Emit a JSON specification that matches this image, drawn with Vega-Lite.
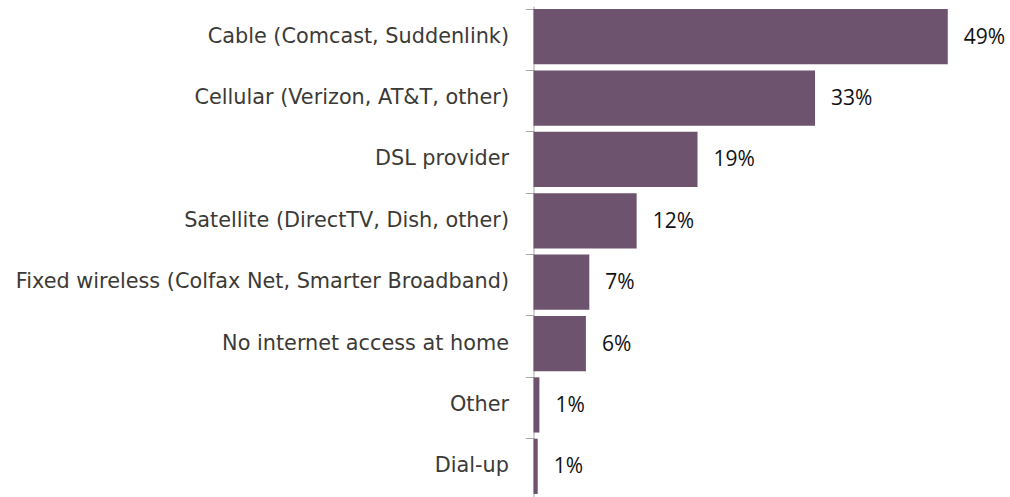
{
  "$schema": "https://vega.github.io/schema/vega-lite/v6.json",
  "autosize": {"type": "none"},
  "width": 476,
  "height": 491,
  "padding": {"left": 533.5, "top": 6, "right": 0.5, "bottom": 0},
  "background": "white",
  "config": {"view": {"stroke": null}},
  "data": {
    "values": [
      {"category": "Cable (Comcast, Suddenlink)", "value": 49.0, "label": "49%"},
      {"category": "Cellular (Verizon, AT&T, other)", "value": 33.3, "label": "33%"},
      {"category": "DSL provider", "value": 19.4, "label": "19%"},
      {"category": "Satellite (DirectTV, Dish, other)", "value": 12.2, "label": "12%"},
      {"category": "Fixed wireless (Colfax Net, Smarter Broadband)", "value": 6.6, "label": "7%"},
      {"category": "No internet access at home", "value": 6.2, "label": "6%"},
      {"category": "Other", "value": 0.7, "label": "1%"},
      {"category": "Dial-up", "value": 0.5, "label": "1%"}
    ]
  },
  "encoding": {
    "y": {
      "field": "category",
      "type": "nominal",
      "sort": null,
      "scale": {"paddingInner": 0.1, "paddingOuter": 0.05},
      "axis": {
        "title": null,
        "bandPosition": 0,
        "domainColor": "#a6a6a6",
        "tickColor": "#a6a6a6",
        "tickSize": 8,
        "labelPadding": 17,
        "labelFont": "DejaVu Sans",
        "labelFontSize": 20.8,
        "labelColor": "#3b3a36",
        "labelLimit": 700
      }
    },
    "x": {
      "field": "value",
      "type": "quantitative",
      "scale": {"domain": [0, 56.3]},
      "axis": null
    }
  },
  "layer": [
    {"mark": {"type": "bar", "color": "#6e536e"}},
    {
      "mark": {"type": "text", "align": "left", "dx": 16, "dy": 1, "font": "Open Sans", "fontSize": 21, "color": "#111111"},
      "encoding": {"text": {"field": "label"}}
    }
  ]
}
